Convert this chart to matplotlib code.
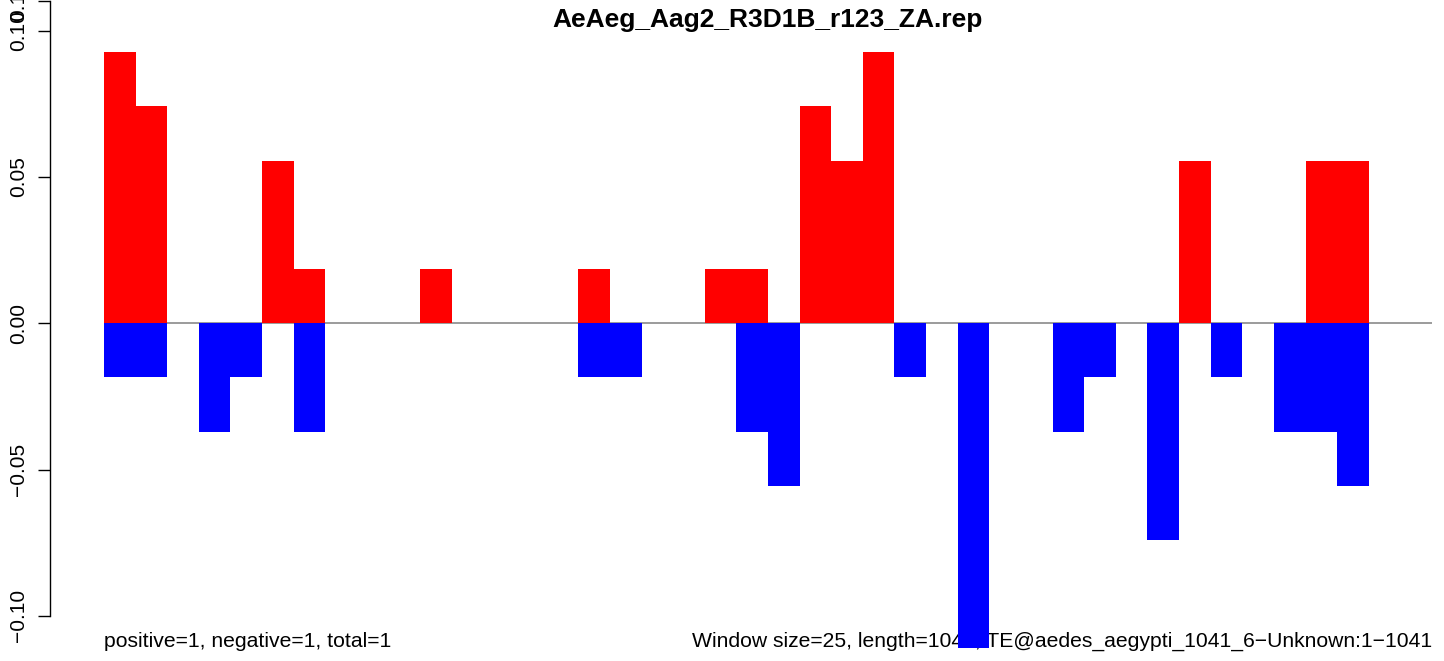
import numpy as np
import matplotlib
matplotlib.use("Agg")
import matplotlib.pyplot as plt

plt.rcParams['font.family'] = ['Liberation Sans', 'DejaVu Sans']

# per-window values (window size 25, 42 windows over 1041 bp)
positive = [0.0926, 0.0741, 0, 0, 0, 0.0556, 0.0185, 0, 0, 0,
            0.0185, 0, 0, 0, 0, 0.0185, 0, 0, 0, 0.0185,
            0.0185, 0, 0.0741, 0.0556, 0.0926, 0, 0, 0, 0, 0,
            0, 0, 0, 0, 0.0556, 0, 0, 0, 0.0556, 0.0556,
            0, 0]
negative = [-0.0185, -0.0185, 0, -0.0370, -0.0185, 0, -0.0370, 0, 0, 0,
            0, 0, 0, 0, 0, -0.0185, -0.0185, 0, 0, 0,
            -0.0370, -0.0556, 0, 0, 0, -0.0185, 0, -0.1111, 0, 0,
            -0.0370, -0.0185, 0, -0.0741, 0, -0.0185, 0, -0.0370, -0.0370, -0.0556,
            0, 0]
yticks = [-0.10, -0.05, 0.00, 0.05, 0.10, 0.11]
ytick_labels = ["\u22120.10", "\u22120.05", "0.00", "0.05", "0.10", "0.11"]

title = "AeAeg_Aag2_R3D1B_r123_ZA.rep"
left_note = "positive=1, negative=1, total=1"
right_note = "Window size=25, length=1041, TE@aedes_aegypti_1041_6\u2212Unknown:1\u22121041"

W, H = 1444, 661
fig = plt.figure(figsize=(W / 100, H / 100), dpi=100)
x0, x1 = 104, 1432
zero_px = 323.3
px_per_unit = 2926
ax = fig.add_axes([x0 / W, 0, (x1 - x0) / W, 1])
ax.set_xlim(0, len(positive))
ax.set_ylim(-(H - zero_px) / px_per_unit, zero_px / px_per_unit)

idx = np.arange(len(positive))
ax.axhline(0, color='#808080', lw=1.1, zorder=1)
ax.bar(idx, positive, width=1, align='edge', color='#ff0000', linewidth=0, zorder=3)
ax.bar(idx, negative, width=1, align='edge', color='#0000ff', linewidth=0, zorder=3)

for s in ['top', 'right', 'bottom']:
    ax.spines[s].set_visible(False)
ax.spines['left'].set_position(('outward', 54 * 0.72))
ax.spines['left'].set_bounds(yticks[0], yticks[-1])
ax.spines['left'].set_linewidth(1.0)
ax.set_xticks([])
ax.set_yticks(yticks)
ax.set_yticklabels(ytick_labels, fontsize=15, rotation=90, va='center')
ax.tick_params(axis='y', length=8.6, width=1.0, pad=7.5)

fig.text(768 / W, 1 - 27 / H, title, ha='center', va='baseline',
         fontsize=19, fontweight='bold')
ax.text(x0 / W, 1 - 647 / H, left_note, transform=fig.transFigure,
        ha='left', va='baseline', fontsize=15.2, zorder=2)
ax.text(x1 / W, 1 - 647 / H, right_note, transform=fig.transFigure,
        ha='right', va='baseline', fontsize=15.2, zorder=2)

fig.savefig("out.png", dpi=100)
